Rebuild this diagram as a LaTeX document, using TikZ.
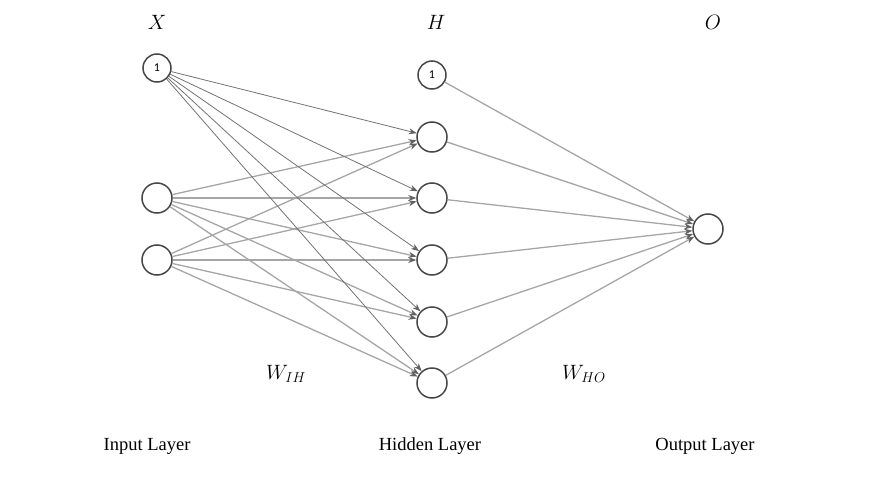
\documentclass[tikz,border=0pt]{standalone}
\usepackage{fontspec}
\setmainfont{Liberation Serif}
\newfontfamily\digitfont{Carlito}
\usetikzlibrary{arrows.meta}
\begin{document}
\begin{tikzpicture}[x=1pt,y=-1pt,
  neuron/.style={circle,draw=black!72,line width=1.5pt,minimum size=30pt,inner sep=0pt,fill=white},
  biasnode/.style={neuron,minimum size=28pt,font=\digitfont\fontsize{12}{14}\selectfont},
  wire/.style={draw=black!35,line width=1.3pt,-{Stealth[length=8pt,width=6pt,color=black!62]}},
  biaswire/.style={draw=black!55,line width=0.8pt,-{Stealth[length=8pt,width=6pt,color=black!62]}},
  title/.style={font=\fontsize{20}{24}\selectfont},
  layername/.style={font=\fontsize{18.5}{22}\selectfont}]
\useasboundingbox (0,0) rectangle (895,487);

% input layer
\node[biasnode] (x0) at (157,68) {1};
\node[neuron] (x1) at (157,198) {};
\node[neuron] (x2) at (157,260) {};

% hidden layer
\node[biasnode] (h0) at (432,75) {1};
\foreach \i/\y in {1/137,2/198,3/260,4/322,5/383}
  \node[neuron] (h\i) at (432,\y) {};

% output layer
\node[neuron] (o) at (708,229) {};

% input -> hidden
\foreach \i in {1,...,5} {
  \draw[biaswire] (x0) -- (h\i);
  \draw[wire] (x1) -- (h\i);
  \draw[wire] (x2) -- (h\i);
}
% hidden -> output
\foreach \i in {0,...,5}
  \draw[wire] (h\i) -- (o);

% layer symbols
\node[title] (lx) at (157,22) {$X$};
\node[title] (lh) at (436,22) {$H$};
\node[title] (lo) at (713,22) {$O$};
\node[title] (wih) at (286,374) {$W_{IH}$};
\node[title] (who) at (584,374) {$W_{HO}$};

% layer names
\node[layername] (ni) at (147,446) {Input Layer};
\node[layername] (nh) at (430,446) {Hidden Layer};
\node[layername] (no) at (705,446) {Output Layer};
\end{tikzpicture}
\end{document}
